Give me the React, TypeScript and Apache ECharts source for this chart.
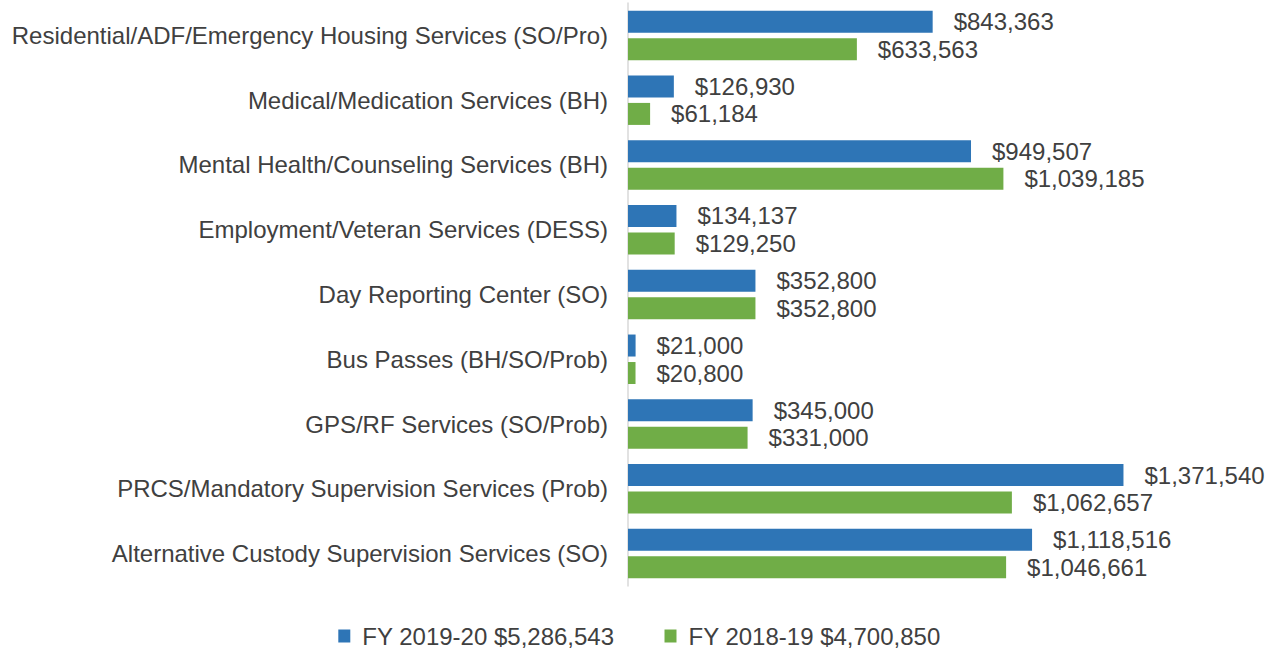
import React, { useEffect, useRef } from "react";
import * as echarts from "echarts";

const categories = [
  "Residential/ADF/Emergency Housing Services (SO/Pro)",
  "Medical/Medication Services (BH)",
  "Mental Health/Counseling Services (BH)",
  "Employment/Veteran Services (DESS)",
  "Day Reporting Center (SO)",
  "Bus Passes (BH/SO/Prob)",
  "GPS/RF Services (SO/Prob)",
  "PRCS/Mandatory Supervision Services (Prob)",
  "Alternative Custody Supervision Services (SO)",
];
const fy2020 = [843363, 126930, 949507, 134137, 352800, 21000, 345000, 1371540, 1118516];
const fy2019 = [633563, 61184, 1039185, 129250, 352800, 20800, 331000, 1062657, 1046661];
const seriesNames = ["FY 2019-20 $5,286,543", "FY 2018-19 $4,700,850"];

const fmt = (v: number) => "$" + v.toLocaleString("en-US");
const FONT = "Liberation Sans, Arial, sans-serif";

export default function App() {
  const ref = useRef<HTMLDivElement>(null);
  useEffect(() => {
    const chart = echarts.init(ref.current!, undefined, { renderer: "svg" });
    const labelStyle = {
      show: true,
      position: "right" as const,
      distance: 21,
      color: "#404040",
      fontSize: 24,
      fontFamily: FONT,
      formatter: (p: any) => fmt(p.value),
    };
    chart.setOption({
      animation: false,
      grid: { left: 628, right: 73, top: 3, bottom: 64 },
      legend: {
        top: 624,
        left: "center",
        padding: 0,
        itemWidth: 12,
        itemHeight: 13,
        itemGap: 50,
        icon: "rect",
        textStyle: {
          fontSize: 24,
          lineHeight: 24,
          color: "#404040",
          fontFamily: FONT,
          padding: [0, 0, 0, 7],
        },
        data: seriesNames,
      },
      xAxis: {
        type: "value",
        min: 0,
        max: 1600000,
        show: false,
      },
      yAxis: {
        type: "category",
        inverse: true,
        data: categories,
        axisLine: { lineStyle: { color: "#d9d9d9", width: 1.5 } },
        axisTick: { show: false },
        axisLabel: {
          margin: 20,
          fontSize: 24,
          color: "#404040",
          fontFamily: FONT,
        },
      },
      series: [
        {
          name: seriesNames[0],
          type: "bar",
          data: fy2020,
          barWidth: 22,
          barGap: "25%",
          itemStyle: { color: "#2E75B6" },
          label: labelStyle,
        },
        {
          name: seriesNames[1],
          type: "bar",
          data: fy2019,
          barWidth: 22,
          barGap: "25%",
          itemStyle: { color: "#70AD47" },
          label: labelStyle,
        },
      ],
    });
    return () => chart.dispose();
  }, []);
  return (
    <div
      ref={ref}
      style={{ position: "absolute", left: 0, top: 0, width: 1279, height: 650 }}
    />
  );
}
